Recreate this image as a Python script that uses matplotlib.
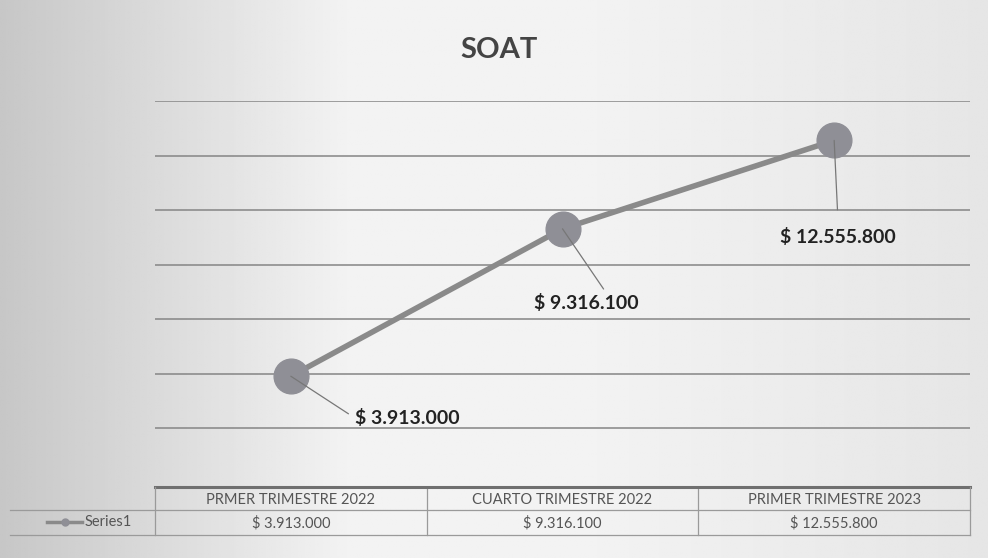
import numpy as np
import matplotlib
matplotlib.use("Agg")
import matplotlib.pyplot as plt
from matplotlib.transforms import blended_transform_factory

# data
categories = ["PRMER TRIMESTRE 2022", "CUARTO TRIMESTRE 2022", "PRIMER TRIMESTRE 2023"]
values = [3913000, 9316100, 12555800]
series_name = "Series1"
title = "SOAT"


def peso(v):
    return "$ " + f"{v:,}".replace(",", ".")


plt.rcParams["font.family"] = ["Lato", "DejaVu Sans"]

W, H = 988, 558
fig = plt.figure(figsize=(W / 100, H / 100), dpi=100)

# scanned-paper background: darker on the left, lighter in the middle
bg = fig.add_axes([0, 0, 1, 1], zorder=-10)
gx = np.linspace(0, 1, 400)
shade = 0.78 + 0.17 * np.clip(gx / 0.35, 0, 1) - 0.05 * np.clip((gx - 0.6) / 0.4, 0, 1)
grad = np.tile(shade, (50, 1))
bg.imshow(grad, cmap="gray", vmin=0, vmax=1, aspect="auto", extent=[0, 1, 0, 1])
bg.axis("off")

# plot area in pixels
left, right, top, bottom = 155, 970, 101, 483
ax = fig.add_axes([left / W, 1 - bottom / H, (right - left) / W, (bottom - top) / H])
ax.patch.set_alpha(0)
ax.set_xlim(-0.5, len(categories) - 0.5)
ax.set_ylim(0, 14e6)
for s in ax.spines.values():
    s.set_visible(False)
ax.set_xticks([])
ax.set_yticks(np.arange(2e6, 14.1e6, 2e6))
ax.tick_params(left=False, labelleft=False)
ax.grid(axis="y", color="#858585", linewidth=1.1)

x = np.arange(len(categories))
ax.plot(x, values, color="#8a8a8a", linewidth=4, marker="o",
        markersize=25, markerfacecolor="#8f8f96", markeredgecolor="#8f8f96", zorder=3)

# data labels with leader lines (offsets in points)
label_specs = [
    dict(off=(46, -30), ha="left", va="center", relpos=(0, 0.5), gap=3),
    dict(off=(17, -47), ha="center", va="top", relpos=(0.7, 1), gap=2),
    dict(off=(3, -63), ha="center", va="top", relpos=(0.5, 1), gap=11),
]
for xi, v, sp in zip(x, values, label_specs):
    ax.annotate(peso(v), xy=(xi, v), xytext=sp["off"], textcoords="offset points",
                fontsize=14, fontweight="bold", color="#222222",
                ha=sp["ha"], va=sp["va"],
                arrowprops=dict(arrowstyle="-", color="#777777", lw=0.9,
                                shrinkA=sp["gap"], shrinkB=0, relpos=sp["relpos"]))

fig.text(0.505, 1 - 50 / H, title, ha="center", va="center",
         fontsize=21, fontweight="bold", color="#444444")

# data table under the plot
tr = blended_transform_factory(ax.transData, fig.transFigure)
fy = lambda py: 1 - py / H
row_top, row_mid, row_bot = 487, 510, 535
ax_fig = fig.add_axes([0, 0, 1, 1], zorder=5)
ax_fig.set_xlim(0, W)
ax_fig.set_ylim(H, 0)
ax_fig.axis("off")
ax_fig.plot([left, right], [row_top, row_top], color="#6f6f6f", lw=2.2)
ax_fig.plot([10, right], [row_mid, row_mid], color="#9a9a9a", lw=0.9)
ax_fig.plot([10, right], [row_bot, row_bot], color="#9a9a9a", lw=0.9)
ax_fig.plot([left, left], [row_top, row_bot], color="#9a9a9a", lw=0.9)
ax_fig.plot([right, right], [row_top, row_bot], color="#9a9a9a", lw=0.9)
for b in np.arange(0.5, len(categories) - 1, 1.0):
    ax.plot([b, b], [fy(row_top), fy(row_bot)], transform=tr,
            color="#9a9a9a", lw=0.9, clip_on=False)

for xi, cat, v in zip(x, categories, values):
    ax.text(xi, fy((row_top + row_mid) / 2 + 1), cat, transform=tr,
            ha="center", va="center", fontsize=10.5, color="#555555")
    ax.text(xi, fy((row_mid + row_bot) / 2 + 1), peso(v), transform=tr,
            ha="center", va="center", fontsize=10.5, color="#555555")

# legend key
ax_fig.plot([47, 82], [522, 522], color="#8a8a8a", lw=2.5)
ax_fig.plot([65], [522], marker="o", markersize=5, color="#8f8f96")
ax_fig.text(85, 522, series_name, ha="left", va="center", fontsize=10.5,
            color="#555555")

fig.savefig("out.png", dpi=100)
